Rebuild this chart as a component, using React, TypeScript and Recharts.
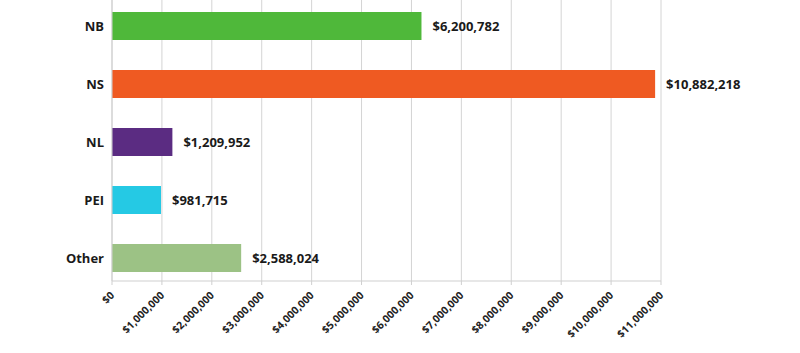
import React from 'react'
import { BarChart, Bar, XAxis, YAxis, CartesianGrid, LabelList, Cell } from 'recharts'

const REGIONS = ['NB', 'NS', 'NL', 'PEI', 'Other']
const AMOUNTS = [6200782, 10882218, 1209952, 981715, 2588024]
const COLORS = ['#4fb83a', '#ef5a22', '#5b2c82', '#25c9e4', '#9cc285']
const X_TICKS = [0, 1000000, 2000000, 3000000, 4000000, 5000000, 6000000, 7000000, 8000000, 9000000, 10000000, 11000000]
const EDGE_TICKS = [0, 1, 2, 3, 4, 5]

const FONT = '"Open Sans", "DejaVu Sans", sans-serif'

const data = REGIONS.map((name, i) => ({ name, amount: AMOUNTS[i] }))

const money = (v: number) => '$' + Math.round(v).toLocaleString('en-US')

if (typeof document !== 'undefined') document.body.style.margin = '0'

function RotatedTick(props: any) {
  const { x, y, payload } = props
  return (
    <text
      x={x + 3}
      y={y + 9}
      transform={`rotate(-45, ${x + 3}, ${y + 9})`}
      textAnchor="end"
      fontSize={10.5}
      fontWeight={700}
      fontFamily={FONT}
      fill="#222"
    >
      {money(payload.value)}
    </text>
  )
}

// tick marks only, no label
const NoLabel = () => <g />

export default function App() {
  return (
    <div style={{ width: 800, height: 353, background: '#fff' }}>
      <BarChart
        width={800}
        height={353}
        data={data}
        layout="vertical"
        margin={{ top: 0, right: 139, left: 0, bottom: 12 }}
      >
        <CartesianGrid horizontal={false} stroke="#d4d4d4" />
        <XAxis
          type="number"
          domain={[0, 11000000]}
          ticks={X_TICKS}
          interval={0}
          height={60}
          stroke="#cfcfcf"
          tickSize={4}
          tick={<RotatedTick />}
        />
        <YAxis
          type="category"
          dataKey="name"
          width={112}
          padding={{ top: -3, bottom: -6 }}
          tickLine={false}
          stroke="#cfcfcf"
          tick={{ fontSize: 13, fontWeight: 700, fill: '#1a1a1a', fontFamily: FONT }}
        />
        <YAxis
          yAxisId="edges"
          type="number"
          domain={[0, 5]}
          ticks={EDGE_TICKS}
          width={0}
          padding={{ top: -3, bottom: -6 }}
          axisLine={false}
          tick={NoLabel}
          tickSize={4}
          stroke="#d8d8d8"
          reversed
        />
        <Bar dataKey="amount" barSize={28} isAnimationActive={false}>
          {data.map((d, i) => (
            <Cell key={d.name} fill={COLORS[i]} />
          ))}
          <LabelList
            dataKey="amount"
            position="right"
            offset={11}
            formatter={(v: any) => money(Number(v))}
            style={{ fontSize: 13, fontWeight: 700, fill: '#1a1a1a', fontFamily: FONT }}
          />
        </Bar>
      </BarChart>
    </div>
  )
}
